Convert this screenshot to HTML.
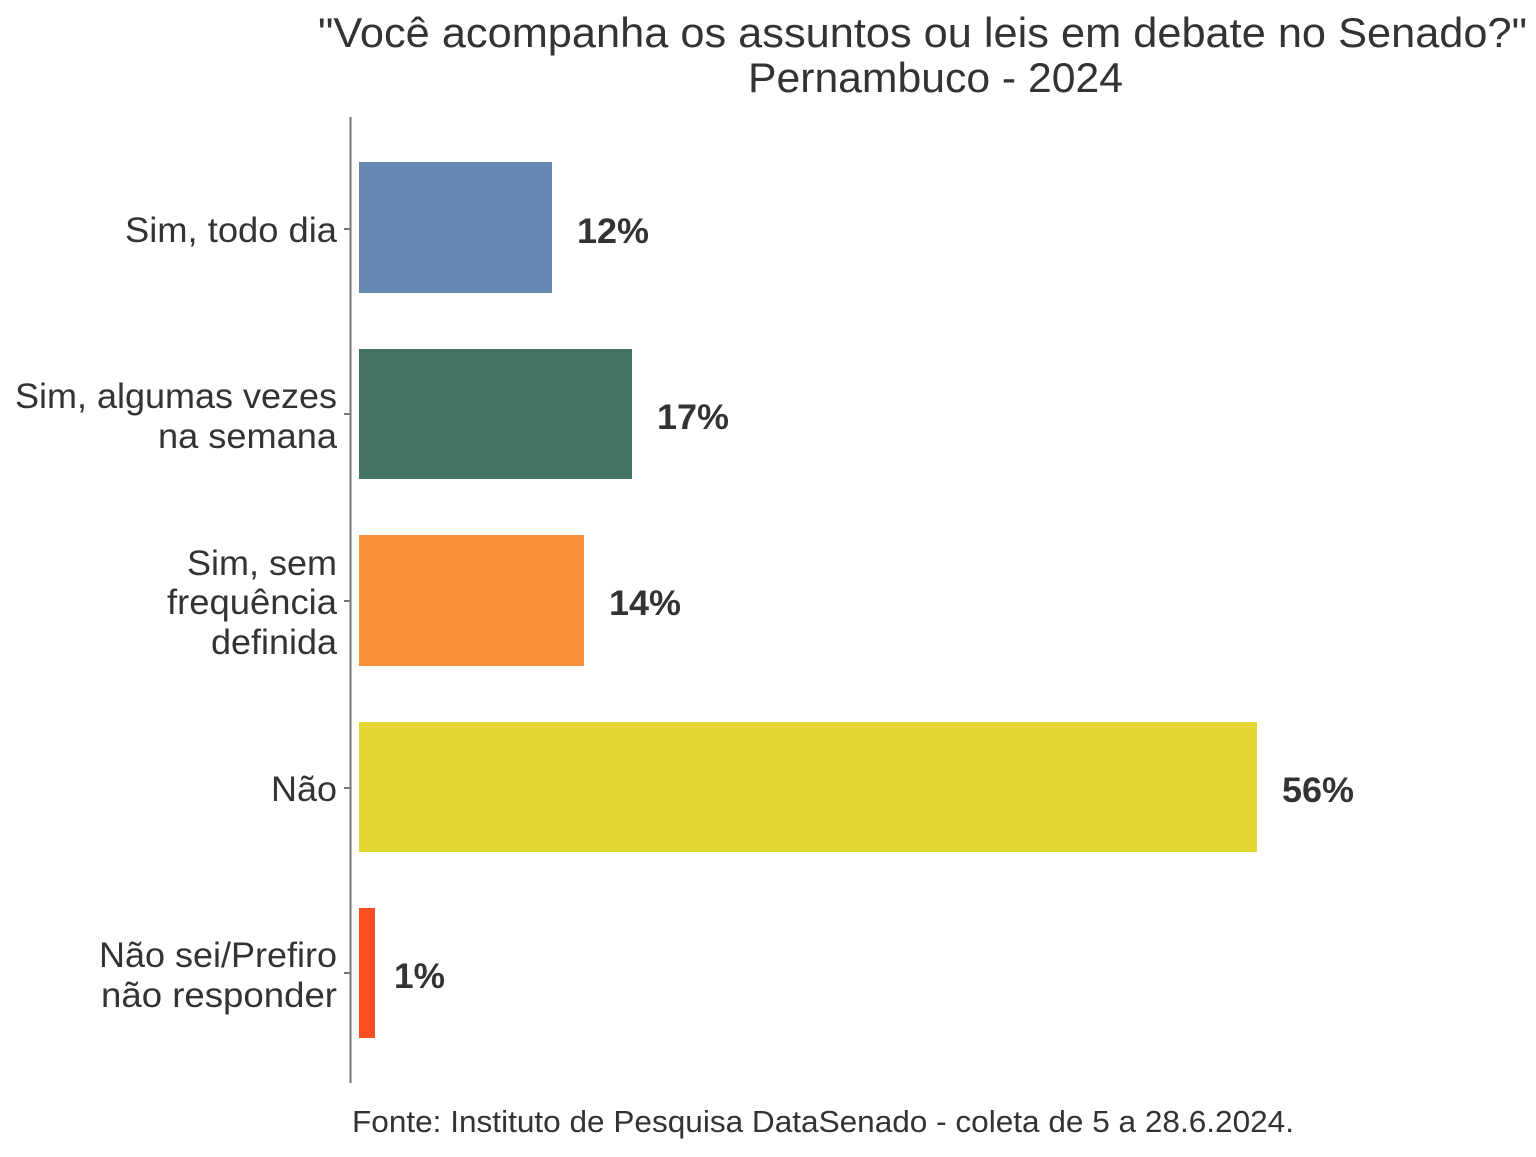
<!DOCTYPE html>
<html><head><meta charset="utf-8"><style>
body{margin:0;background:#fff;}
svg text{font-family:"Liberation Sans",Arial,sans-serif;fill:#333;}
</style></head><body>
<svg width="1536" height="1152" xmlns="http://www.w3.org/2000/svg">
<rect width="1536" height="1152" fill="#fff"/>
<text x="318" y="47" font-size="42" textLength="1209" lengthAdjust="spacingAndGlyphs">"Você acompanha os assuntos ou leis em debate no Senado?"</text>
<text x="748" y="92" font-size="42" textLength="375" lengthAdjust="spacingAndGlyphs">Pernambuco - 2024</text>
<line x1="350.5" y1="117" x2="350.5" y2="1083" stroke="#777" stroke-width="2"/>
<g stroke="#777" stroke-width="2">
<line x1="344" y1="229" x2="350" y2="229"/><line x1="344" y1="414" x2="350" y2="414"/>
<line x1="344" y1="601" x2="350" y2="601"/><line x1="344" y1="788" x2="350" y2="788"/>
<line x1="344" y1="973" x2="350" y2="973"/></g>
<rect x="359" y="162" width="193" height="131" fill="#6688b0"/>
<rect x="359" y="349" width="273" height="130" fill="#447463"/>
<rect x="359" y="535" width="225" height="131" fill="#fa923c"/>
<rect x="359" y="722" width="898" height="130" fill="#e5d834"/>
<rect x="359" y="908" width="16" height="130" fill="#fc4e22"/>
<g font-size="35" font-weight="bold">
<text x="577" y="243" textLength="72" lengthAdjust="spacingAndGlyphs">12%</text>
<text x="657" y="429" textLength="72" lengthAdjust="spacingAndGlyphs">17%</text>
<text x="609" y="615" textLength="72" lengthAdjust="spacingAndGlyphs">14%</text>
<text x="1282" y="802" textLength="72" lengthAdjust="spacingAndGlyphs">56%</text>
<text x="394" y="988" textLength="51" lengthAdjust="spacingAndGlyphs">1%</text></g>
<g font-size="35" lengthAdjust="spacingAndGlyphs">
<text x="125" y="242" textLength="212" lengthAdjust="spacingAndGlyphs">Sim, todo dia</text>
<text x="15" y="408" textLength="322" lengthAdjust="spacingAndGlyphs">Sim, algumas vezes</text>
<text x="158" y="448" textLength="179" lengthAdjust="spacingAndGlyphs">na semana</text>
<text x="187" y="575" textLength="150" lengthAdjust="spacingAndGlyphs">Sim, sem</text>
<text x="167" y="614" textLength="170" lengthAdjust="spacingAndGlyphs">frequência</text>
<text x="211" y="654" textLength="126" lengthAdjust="spacingAndGlyphs">definida</text>
<text x="271" y="801" textLength="66" lengthAdjust="spacingAndGlyphs">Não</text>
<text x="99" y="967" textLength="238" lengthAdjust="spacingAndGlyphs">Não sei/Prefiro</text>
<text x="101" y="1007" textLength="236" lengthAdjust="spacingAndGlyphs">não responder</text>
</g>
<text x="352" y="1132" font-size="31" textLength="942" lengthAdjust="spacingAndGlyphs">Fonte: Instituto de Pesquisa DataSenado - coleta de 5 a 28.6.2024.</text>
</svg>
</body></html>
